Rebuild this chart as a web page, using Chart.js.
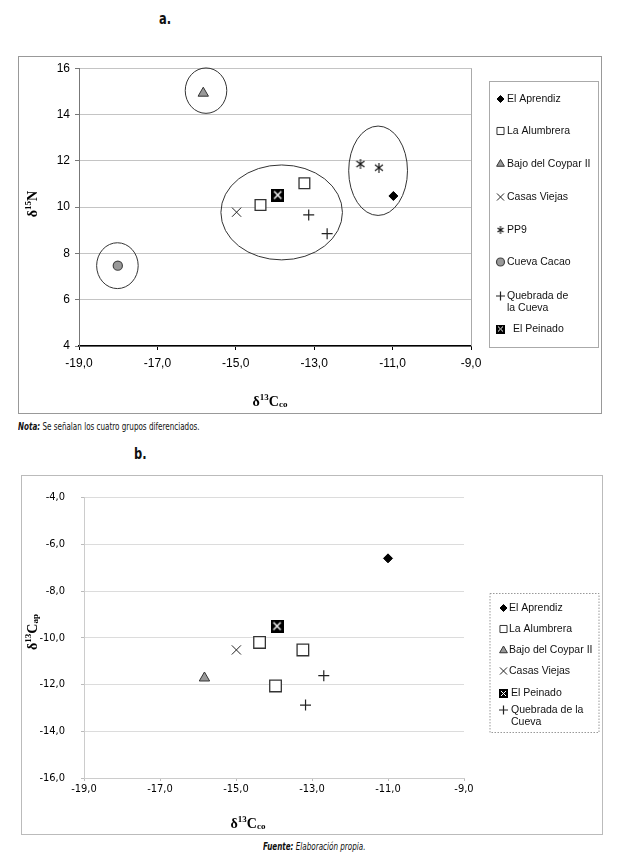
<!DOCTYPE html>
<html>
<head>
<meta charset="utf-8">
<script src="https://cdn.jsdelivr.net/npm/chart.js@4.4.1/dist/chart.umd.min.js"></script>
<style>
body { margin: 0; background: #fff; width: 618px; height: 863px; position: relative; overflow: hidden; }
.frame { position: absolute; box-sizing: border-box; }
#frameA { left: 18px; top: 56px; width: 584px; height: 358px; border: 1px solid #999; }
#frameB { left: 21px; top: 475px; width: 582px; height: 360px; border: 1px solid #bbb; }
canvas { position: absolute; }
#chartA { left: 18px; top: 56px; }
#chartB { left: 22px; top: 475px; }
.ttl { position: absolute; font-family: "Liberation Sans Narrow", "DejaVu Sans Condensed", sans-serif; font-weight: bold; font-size: 15px; color: #111; transform: scaleX(0.85); transform-origin: left top; }
.note { position: absolute; font-family: "Liberation Sans Narrow", "DejaVu Sans Condensed", sans-serif; font-size: 10px; color: #111; white-space: nowrap; transform: scaleX(0.8); transform-origin: left top; }
</style>
</head>
<body>
<div class="ttl" style="left:159px; top:10px;">a.</div>
<div class="frame" id="frameA"></div>
<canvas id="chartA" width="583" height="357"></canvas>
<div class="note" style="left:18px; top:421px;"><b><i>Nota:</i></b> Se señalan los cuatro grupos diferenciados.</div>

<div class="ttl" style="left:134px; top:445px;">b.</div>
<div class="frame" id="frameB"></div>
<canvas id="chartB" width="580" height="359"></canvas>
<div class="note" style="left:263px; top:841px;"><b><i>Fuente:</i></b> <i>Elaboración propia.</i></div>

<script>
// ---- chart a: d13C colageno vs d15N ----
var sitesA = ['El Aprendiz', 'La Alumbrera', 'Bajo del Coypar II', 'Casas Viejas', 'PP9', 'Cueva Cacao', 'Quebrada de la Cueva', 'El Peinado'];
var c13coA = [[-10.98], [-14.37, -13.25], [-15.83], [-14.98], [-11.82, -11.35], [-18.01], [-13.14, -12.67], [-13.93]];
var n15A = [[10.48], [10.09, 11.03], [14.92], [9.78], [11.86, 11.70], [7.47], [9.66, 8.85], [10.52]];
var xTicksA = [-19, -17, -15, -13, -11, -9];
var yTicksA = [4, 6, 8, 10, 12, 14, 16];

// the four groups circled on chart a (centre and radii in data units)
var groupCx = [-15.76, -18.02, -13.83, -11.37];
var groupCy = [15.03, 7.47, 9.77, 11.57];
var groupRx = [0.53, 0.53, 1.55, 0.75];
var groupRy = [0.98, 0.99, 2.05, 1.93];

// ---- chart b: d13C colageno vs d13C apatita ----
var sitesB = ['El Aprendiz', 'La Alumbrera', 'Bajo del Coypar II', 'Casas Viejas', 'El Peinado', 'Quebrada de la Cueva'];
var c13coB = [[-11.0], [-14.38, -13.24, -13.96], [-15.83], [-14.99], [-13.92], [-12.69, -13.17]];
var c13apB = [[-6.6], [-10.2, -10.52, -12.06], [-11.72], [-10.52], [-9.5], [-11.62, -12.88]];
var xTicksB = [-19, -17, -15, -13, -11, -9];
var yTicksB = [-16, -14, -12, -10, -8, -6, -4];

function fmt1(v) {
    return v.toFixed(1).replace('.', ',');
}

function toPoints(xs, ys) {
    var pts = [];
    for (var i = 0; i < xs.length; i++) {
        pts.push({x: xs[i], y: ys[i]});
    }
    return pts;
}

// black box with white X (El Peinado)
function peinadoMark(size) {
    var c = document.createElement('canvas');
    c.width = size; c.height = size;
    var g = c.getContext('2d');
    g.fillStyle = '#000';
    g.fillRect(0, 0, size, size);
    g.strokeStyle = '#fff';
    g.lineWidth = size > 9 ? 1.4 : 1;
    var m = size * 0.22;
    g.beginPath();
    g.moveTo(m, m); g.lineTo(size - m, size - m);
    g.moveTo(size - m, m); g.lineTo(m, size - m);
    g.stroke();
    return c;
}

// excel style star: X with a vertical bar (PP9)
function starMark(size) {
    var c = document.createElement('canvas');
    c.width = size; c.height = size;
    var g = c.getContext('2d');
    g.strokeStyle = '#111';
    g.lineWidth = 1.1;
    var m = 1, h = size / 2;
    g.beginPath();
    g.moveTo(m, m + 1); g.lineTo(size - m, size - m - 1);
    g.moveTo(size - m, m + 1); g.lineTo(m, size - m - 1);
    g.moveTo(h, 0); g.lineTo(h, size);
    g.stroke();
    return c;
}

var markStyles = {
    'El Aprendiz': {pointStyle: 'rectRot', radius: 4.5, bg: '#000', border: '#000', bw: 1, lr: 3.5},
    'La Alumbrera': {pointStyle: 'rect', radius: 7.6, bg: '#fff', border: '#333', bw: 1.3, lr: 5, lbw: 1},
    'Bajo del Coypar II': {pointStyle: 'triangle', radius: 6, bg: '#999', border: '#333', bw: 1, lr: 4.5},
    'Casas Viejas': {pointStyle: 'crossRot', radius: 6.5, bg: '#000', border: '#222', bw: 1, lr: 5},
    'PP9': {pointStyle: starMark(10), legendStyle: starMark(8), radius: 5, bg: '#000', border: '#111', bw: 1},
    'Cueva Cacao': {pointStyle: 'circle', radius: 4.6, bg: '#999', border: '#444', bw: 1.2, lr: 4},
    'Quebrada de la Cueva': {pointStyle: 'cross', radius: 5.5, bg: '#000', border: '#222', bw: 1.2, lr: 4.5},
    'El Peinado': {pointStyle: peinadoMark(13), legendStyle: peinadoMark(9), radius: 6.5, bg: '#000', border: '#000', bw: 1}
};

function buildDatasets(sites, xs, ys, bigger) {
    var out = [];
    for (var i = 0; i < sites.length; i++) {
        var st = markStyles[sites[i]];
        var r = st.radius;
        if (bigger && sites[i] == 'La Alumbrera') r = 8.2;
        out.push({
            label: sites[i],
            data: toPoints(xs[i], ys[i]),
            pointStyle: st.pointStyle,
            pointRadius: r,
            pointBackgroundColor: st.bg,
            pointBorderColor: st.border,
            pointBorderWidth: st.bw,
            showLine: false
        });
    }
    return out;
}

// draws text made of pieces with super/subscripts, centred on x,y
function drawRich(ctx, parts, x, y, rotate) {
    ctx.save();
    ctx.translate(x, y);
    if (rotate) ctx.rotate(-Math.PI / 2);
    var w = 0;
    parts.forEach(function (p) { ctx.font = p.f; w += ctx.measureText(p.t).width; });
    var cx = -w / 2;
    ctx.fillStyle = '#000';
    ctx.textBaseline = 'middle';
    parts.forEach(function (p) {
        ctx.font = p.f;
        ctx.fillText(p.t, cx, p.dy || 0);
        cx += ctx.measureText(p.t).width;
    });
    ctx.restore();
}

var big = 'bold 14px "Liberation Serif", serif';
var small = 'bold 9px "Liberation Serif", serif';
function deltaParts(iso, letter, sub) {
    var p = [{t: 'δ', f: big}, {t: iso, f: small, dy: -4}, {t: letter, f: big}];
    if (sub) p.push({t: sub, f: small, dy: 3});
    return p;
}

var extras = {
    id: 'extras',
    beforeDatasetsDraw: function (chart, args, opts) {
        var ctx = chart.ctx, xs = chart.scales.x, ys = chart.scales.y, a = chart.chartArea;
        ctx.save();
        if (opts.rightBorder) {
            ctx.strokeStyle = opts.rightBorder;
            ctx.lineWidth = 1;
            ctx.beginPath();
            ctx.moveTo(a.right + 0.5, a.top);
            ctx.lineTo(a.right + 0.5, a.bottom);
            ctx.stroke();
        }
        if (opts.groups) {
            ctx.strokeStyle = '#333';
            ctx.lineWidth = 1;
            for (var i = 0; i < groupCx.length; i++) {
                var px = xs.getPixelForValue(groupCx[i]);
                var py = ys.getPixelForValue(groupCy[i]);
                var rx = Math.abs(xs.getPixelForValue(groupCx[i] + groupRx[i]) - px);
                var ry = Math.abs(ys.getPixelForValue(groupCy[i] + groupRy[i]) - py);
                ctx.beginPath();
                ctx.ellipse(px, py, rx, ry, 0, 0, Math.PI * 2);
                ctx.stroke();
            }
        }
        ctx.restore();
    },
    afterDraw: function (chart, args, opts) {
        var ctx = chart.ctx;
        if (opts.xTitle) drawRich(ctx, opts.xTitle.parts, opts.xTitle.x, opts.xTitle.y, false);
        if (opts.yTitle) drawRich(ctx, opts.yTitle.parts, opts.yTitle.x, opts.yTitle.y, true);
        var lg = opts.legend;
        if (!lg) return;
        ctx.save();
        ctx.strokeStyle = lg.color;
        ctx.lineWidth = 1;
        if (lg.dash) ctx.setLineDash(lg.dash);
        ctx.strokeRect(lg.box[0] + 0.5, lg.box[1] + 0.5, lg.box[2], lg.box[3]);
        ctx.setLineDash([]);
        ctx.font = '10.5px "Liberation Sans", Arial, sans-serif';
        ctx.textBaseline = 'middle';
        lg.items.forEach(function (it) {
            var ds = chart.data.datasets[it.ds];
            var st = markStyles[ds.label];
            ctx.fillStyle = st.bg;
            ctx.strokeStyle = st.border;
            ctx.lineWidth = st.lbw || st.bw;
            Chart.helpers.drawPoint(ctx, {
                pointStyle: st.legendStyle || st.pointStyle,
                radius: st.lr || 4,
                rotation: 0,
                borderWidth: st.lbw || st.bw
            }, lg.markX, it.y);
            ctx.fillStyle = '#111';
            var lines = it.lines || [ds.label];
            for (var k = 0; k < lines.length; k++) {
                ctx.fillText(lines[k], it.tx || lg.textX, it.y + k * 12);
            }
        });
        ctx.restore();
    }
};

var tickFontA = {family: '"Liberation Sans", Arial, sans-serif', size: 12};
var tickFontB = {family: '"Liberation Sans Narrow", "DejaVu Sans Condensed", sans-serif', size: 11};

new Chart(document.getElementById('chartA'), {
    type: 'scatter',
    data: {datasets: buildDatasets(sitesA, c13coA, n15A, false)},
    options: {
        responsive: false,
        animation: false,
        layout: {padding: {left: 0, right: 130, top: 12, bottom: 0}},
        scales: {
            x: {
                type: 'linear', min: xTicksA[0], max: xTicksA[xTicksA.length - 1],
                afterBuildTicks: function (s) { s.ticks = xTicksA.map(function (v) { return {value: v}; }); },
                afterFit: function (s) { s.height = 67; },
                ticks: {callback: fmt1, font: tickFontA, color: '#000', padding: 6, maxRotation: 0},
                grid: {drawOnChartArea: false, tickLength: 4, tickColor: '#000'},
                border: {color: '#000', width: 1.5}
            },
            y: {
                min: yTicksA[0], max: yTicksA[yTicksA.length - 1],
                afterBuildTicks: function (s) { s.ticks = yTicksA.map(function (v) { return {value: v}; }); },
                afterFit: function (s) { s.width = 61; },
                ticks: {font: tickFontA, color: '#000', padding: 5},
                grid: {color: '#c4c4c4', tickLength: 4, tickColor: '#777'},
                border: {color: '#777'}
            }
        },
        plugins: {
            legend: {display: false},
            tooltip: {enabled: false},
            extras: {
                rightBorder: '#aaa',
                groups: true,
                xTitle: {parts: deltaParts('13', 'C', 'co'), x: 252, y: 346},
                yTitle: {parts: deltaParts('15', 'N'), x: 15, y: 148},
                legend: {
                    box: [471, 25, 109, 266], color: '#aaa', markX: 482.5, textX: 489,
                    items: [
                        {ds: 0, y: 43}, {ds: 1, y: 75}, {ds: 2, y: 108}, {ds: 3, y: 141},
                        {ds: 4, y: 174}, {ds: 5, y: 206},
                        {ds: 6, y: 240, lines: ['Quebrada de', 'la Cueva']},
                        {ds: 7, y: 273, tx: 495}
                    ]
                }
            }
        }
    },
    plugins: [extras]
});

new Chart(document.getElementById('chartB'), {
    type: 'scatter',
    data: {datasets: buildDatasets(sitesB, c13coB, c13apB, true)},
    options: {
        responsive: false,
        animation: false,
        layout: {padding: {left: 0, right: 138, top: 21, bottom: 0}},
        scales: {
            x: {
                type: 'linear', min: xTicksB[0], max: xTicksB[xTicksB.length - 1],
                afterBuildTicks: function (s) { s.ticks = xTicksB.map(function (v) { return {value: v}; }); },
                afterFit: function (s) { s.height = 56; },
                ticks: {callback: fmt1, font: tickFontB, color: '#000', padding: 2, maxRotation: 0},
                grid: {drawOnChartArea: false, tickLength: 3, tickColor: '#bbb'},
                border: {color: '#ccc'}
            },
            y: {
                min: yTicksB[0], max: yTicksB[yTicksB.length - 1],
                afterBuildTicks: function (s) { s.ticks = yTicksB.map(function (v) { return {value: v}; }); },
                afterFit: function (s) { s.width = 62; },
                ticks: {callback: fmt1, font: tickFontB, color: '#000', padding: 16},
                grid: {color: '#dcdcdc', tickLength: 3, tickColor: '#bbb'},
                border: {color: '#ccc'}
            }
        },
        plugins: {
            legend: {display: false},
            tooltip: {enabled: false},
            extras: {
                xTitle: {parts: deltaParts('13', 'C', 'co'), x: 226, y: 349},
                yTitle: {parts: deltaParts('13', 'C', 'ap'), x: 11, y: 157},
                legend: {
                    box: [467.5, 118, 109, 139], color: '#999', dash: [1.5, 1.5], markX: 481.5, textX: 487,
                    items: [
                        {ds: 0, y: 133}, {ds: 1, y: 154}, {ds: 2, y: 175.5}, {ds: 3, y: 196},
                        {ds: 4, y: 218.5, tx: 489},
                        {ds: 5, y: 235, tx: 489, lines: ['Quebrada de la', 'Cueva']}
                    ]
                }
            }
        }
    },
    plugins: [extras]
});
</script>
</body>
</html>
